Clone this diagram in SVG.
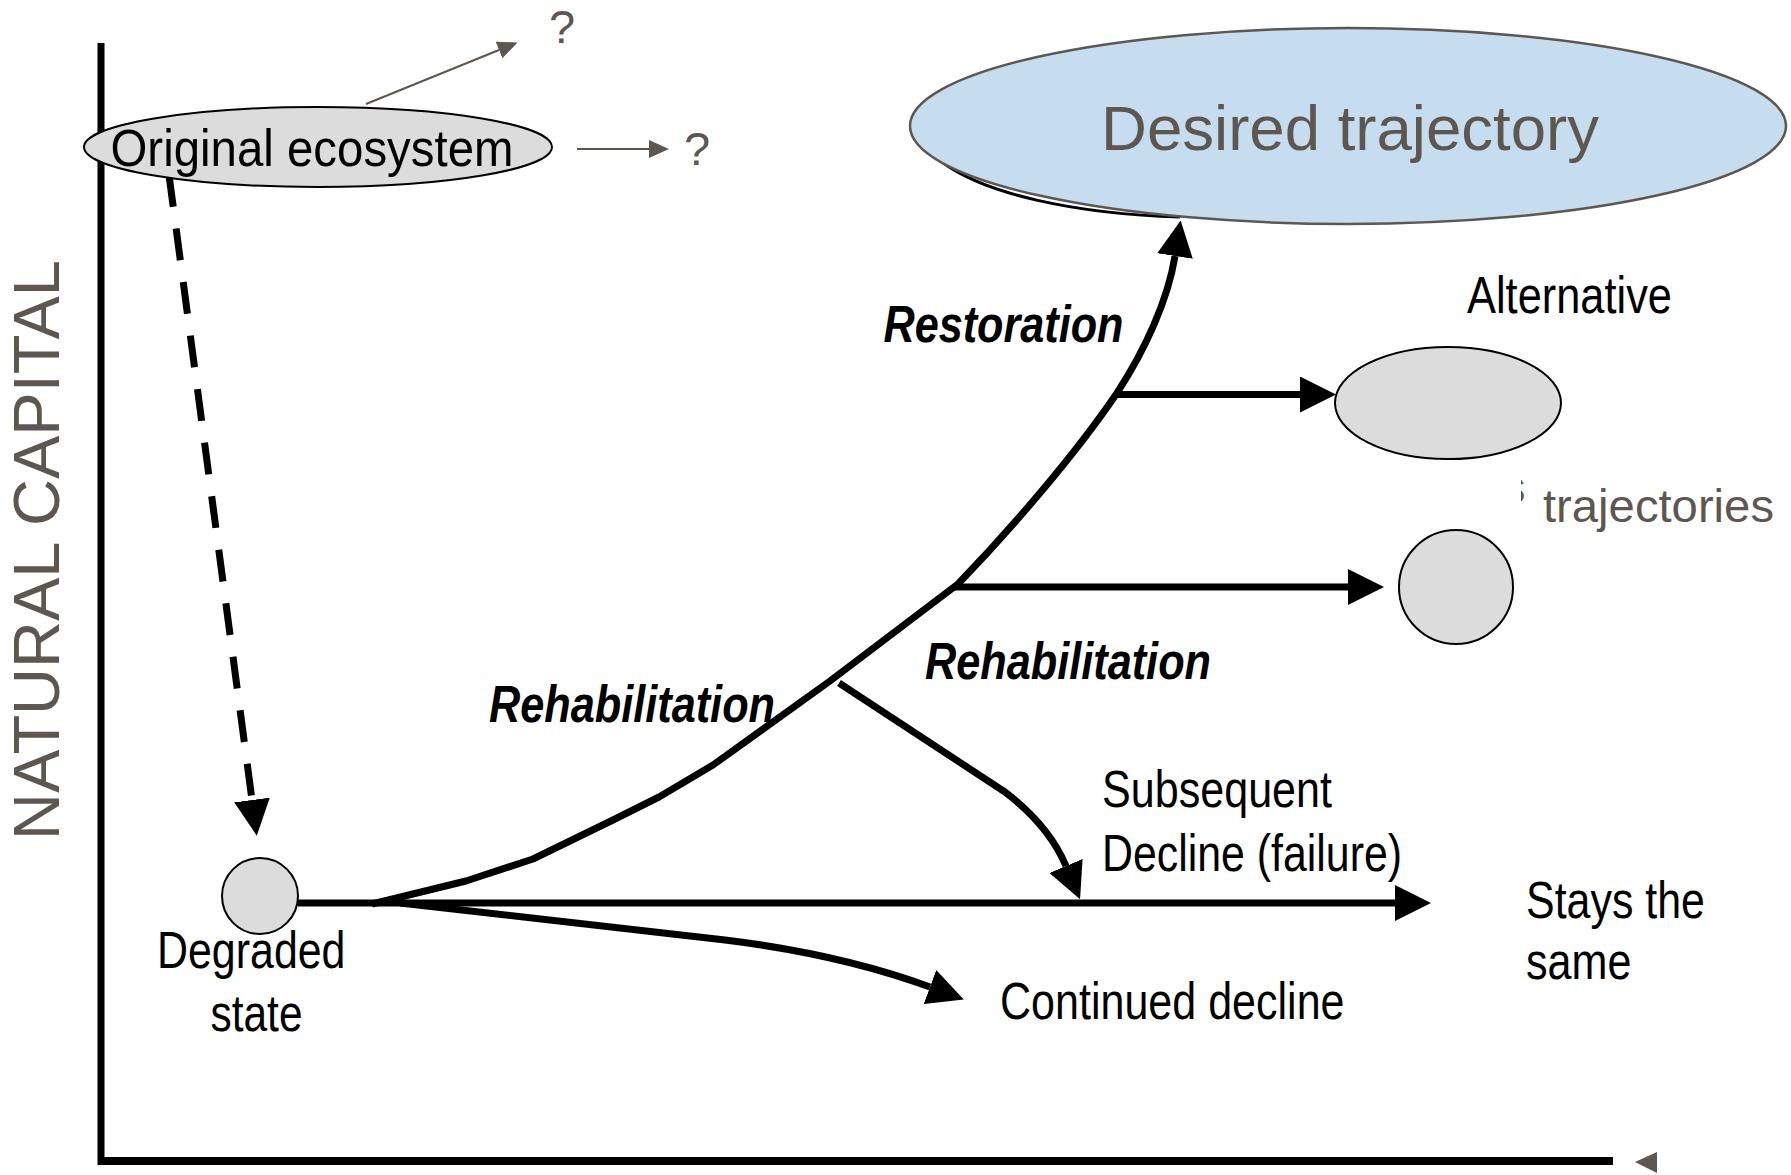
<svg xmlns="http://www.w3.org/2000/svg" width="1791" height="1175" viewBox="0 0 1791 1175">
  <style>
    .lbl { font-family: 'Liberation Sans Narrow', 'Liberation Sans', Arial, sans-serif; font-size: 52.5px; fill: #000; }
    .bi { font-weight: bold; font-style: italic; }
    .gry { font-family: 'Liberation Sans', Arial, sans-serif; fill: #5e5750; }
    .axis { stroke: #000; fill: none; }
    .path { stroke: #000; stroke-width: 7; fill: none; stroke-linejoin: round; }
    .thin { stroke: #5e5750; stroke-width: 2; fill: none; }
    .state { fill: #dcdcdc; stroke: #000; stroke-width: 2; }
  </style>
  <defs>
    <marker id="head" viewBox="0 0 36 36" markerWidth="36" markerHeight="36" refX="0" refY="18" orient="auto" markerUnits="userSpaceOnUse">
      <path d="M0,0 L36,18 L0,36 Z" fill="#000"/>
    </marker>
    <marker id="headSmall" viewBox="0 0 20 18" markerWidth="20" markerHeight="18" refX="0" refY="9" orient="auto" markerUnits="userSpaceOnUse">
      <path d="M0,0 L20,9 L0,18 Z" fill="#5e5750"/>
    </marker>
    <clipPath id="sliver">
      <rect x="1521" y="470" width="7" height="40"/>
    </clipPath>
  </defs>

  <!-- axes -->
  <g id="axes">
    <line class="axis" x1="101" y1="43" x2="101" y2="1165" stroke-width="7"/>
    <line class="axis" x1="98" y1="1161" x2="1613" y2="1161" stroke-width="8"/>
    <polygon points="1635,1162 1657,1152 1657,1173" fill="#5e5750"/>
    <text class="gry" font-size="64" text-anchor="middle" transform="translate(59,550) rotate(-90)" textLength="580" lengthAdjust="spacingAndGlyphs">NATURAL CAPITAL</text>
  </g>

  <!-- connectors -->
  <g id="connectors">
    <!-- possible futures of the original ecosystem -->
    <line class="thin" x1="366" y1="104" x2="499" y2="50" marker-end="url(#headSmall)"/>
    <line class="thin" x1="577" y1="149" x2="649" y2="149" marker-end="url(#headSmall)"/>
    <!-- degradation -->
    <path class="path" d="M169 175 L252 800" stroke-dasharray="32 22" marker-end="url(#head)"/>
    <!-- stays the same -->
    <path class="path" d="M298 903 H1395" marker-end="url(#head)"/>
    <!-- continued decline -->
    <path class="path" d="M400 903 L725 940 Q840 954 930 987" marker-end="url(#head)"/>
    <!-- rehabilitation / restoration trajectory -->
    <path class="path" d="M372 904 L466 881 L533 859 L613 820 L659 797 L713 765 L830 681 L958 584 C1010 530 1075 455 1117 393 C1145 350 1168 300 1175 256" marker-end="url(#head)"/>
    <!-- alternative trajectories -->
    <path class="path" d="M1115 394.5 H1300" marker-end="url(#head)"/>
    <path class="path" d="M955 587 H1348" marker-end="url(#head)"/>
    <!-- subsequent decline (failure) -->
    <path class="path" d="M839 683 L1005 792 C1035 815 1055 840 1066 866" marker-end="url(#head)"/>
  </g>

  <!-- nodes -->
  <g id="original-ecosystem">
    <ellipse class="state" cx="318" cy="147" rx="234" ry="40"/>
    <text class="lbl" x="110.5" y="166" font-size="58" textLength="403" lengthAdjust="spacingAndGlyphs">Original ecosystem</text>
  </g>
  <g id="question-marks">
    <text class="gry" x="549" y="43" font-size="47">?</text>
    <text class="gry" x="684" y="164.5" font-size="47">?</text>
  </g>

  <g id="desired-trajectory">
    <path d="M942 162 C985 194 1075 214 1180 217" fill="none" stroke="#000" stroke-width="3"/>
    <ellipse cx="1348" cy="126" rx="438" ry="98" fill="#c6dcef" stroke="#5e5750" stroke-width="2.5"/>
    <text class="gry" x="1101" y="150" font-size="63" textLength="498" lengthAdjust="spacingAndGlyphs">Desired trajectory</text>
  </g>

  <g id="alternative-state-1">
    <ellipse class="state" cx="1448" cy="403" rx="113" ry="56"/>
  </g>
  <g id="alternative-state-2">
    <circle class="state" cx="1456" cy="587" r="57"/>
  </g>
  <g id="alternative-labels">
    <text class="lbl" x="1467" y="312.5" textLength="205" lengthAdjust="spacingAndGlyphs">Alternative</text>
    <text class="gry" x="1502" y="503" font-size="47" clip-path="url(#sliver)">s</text>
    <text class="gry" x="1543" y="521.5" font-size="47" textLength="231" lengthAdjust="spacingAndGlyphs">trajectories</text>
  </g>

  <g id="degraded-state">
    <circle class="state" cx="260" cy="896" r="38" stroke-width="2.5"/>
    <text class="lbl" x="157" y="967.5" textLength="188.5" lengthAdjust="spacingAndGlyphs">Degraded</text>
    <text class="lbl" x="210.5" y="1030.5" textLength="92" lengthAdjust="spacingAndGlyphs">state</text>
  </g>

  <!-- trajectory labels -->
  <g id="labels">
    <text class="lbl bi" x="883.5" y="341.5" textLength="240" lengthAdjust="spacingAndGlyphs">Restoration</text>
    <text class="lbl bi" x="925" y="678.5" textLength="286" lengthAdjust="spacingAndGlyphs">Rehabilitation</text>
    <text class="lbl bi" x="489" y="721.5" textLength="286" lengthAdjust="spacingAndGlyphs">Rehabilitation</text>
    <text class="lbl" x="1102" y="807" textLength="230" lengthAdjust="spacingAndGlyphs">Subsequent</text>
    <text class="lbl" x="1102" y="871" textLength="300" lengthAdjust="spacingAndGlyphs">Decline (failure)</text>
    <text class="lbl" x="1526" y="918" textLength="179" lengthAdjust="spacingAndGlyphs">Stays the</text>
    <text class="lbl" x="1526" y="979" textLength="105.5" lengthAdjust="spacingAndGlyphs">same</text>
    <text class="lbl" x="1000" y="1019" textLength="344.5" lengthAdjust="spacingAndGlyphs">Continued decline</text>
  </g>
</svg>
